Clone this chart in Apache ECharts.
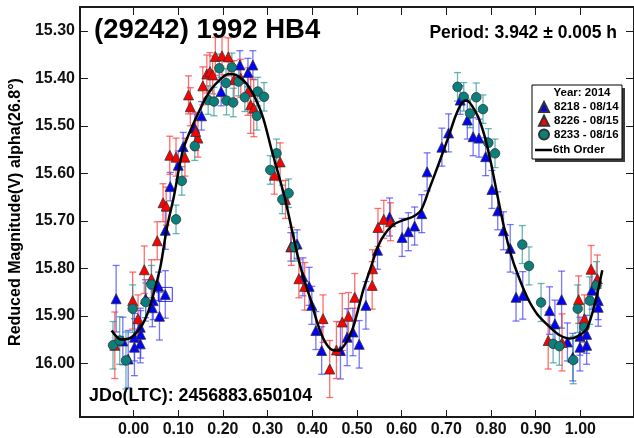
<!DOCTYPE html>
<html>
<head>
<meta charset="utf-8">
<title>(29242) 1992 HB4</title>
<script src="https://cdn.jsdelivr.net/npm/echarts@6/dist/echarts.min.js"></script>
<style>
html, body { margin: 0; padding: 0; background: #fff; }
#chart { width: 634px; height: 438px; }
</style>
</head>
<body>
<div id="chart"></div>
<script>
var xTicks = [0, 0.1, 0.2, 0.3, 0.4, 0.5, 0.6, 0.7, 0.8, 0.9, 1.0];
var yTicks = [15.3, 15.4, 15.5, 15.6, 15.7, 15.8, 15.9, 16.0];

// [phase, reduced mag, error]
var sess8218 = [
    [-0.039, 15.864, 0.07], [-0.024, 15.953, 0.05], [-0.012, 15.991, 0.06], [0.002, 15.945, 0.05],
    [0.002, 15.966, 0.06], [0.015, 15.924, 0.04], [0.016, 15.939, 0.05], [0.015, 15.959, 0.04],
    [0.027, 15.864, 0.04], [0.044, 15.868, 0.04], [0.042, 15.883, 0.04], [0.056, 15.838, 0.03],
    [0.058, 15.901, 0.05], [0.071, 15.855, 0.05], [0.071, 15.720, 0.04], [0.082, 15.628, 0.03],
    [0.100, 15.583, 0.03], [0.111, 15.544, 0.03], [0.137, 15.505, 0.03], [0.152, 15.479, 0.03],
    [0.196, 15.428, 0.03], [0.238, 15.372, 0.03], [0.256, 15.388, 0.03], [0.267, 15.372, 0.03],
    [0.352, 15.755, 0.03], [0.366, 15.749, 0.03], [0.379, 15.818, 0.04], [0.393, 15.838, 0.04],
    [0.399, 15.878, 0.04], [0.408, 15.931, 0.04], [0.421, 15.973, 0.05], [0.463, 15.973, 0.06],
    [0.478, 15.945, 0.06], [0.491, 15.934, 0.05], [0.505, 15.960, 0.05], [0.520, 15.878, 0.05],
    [0.546, 15.762, 0.04], [0.573, 15.692, 0.04], [0.601, 15.735, 0.04], [0.615, 15.723, 0.04],
    [0.629, 15.711, 0.04], [0.645, 15.685, 0.04], [0.657, 15.597, 0.04], [0.690, 15.545, 0.04],
    [0.705, 15.515, 0.04], [0.731, 15.446, 0.03], [0.747, 15.488, 0.04], [0.760, 15.523, 0.04],
    [0.773, 15.526, 0.04], [0.788, 15.565, 0.04], [0.802, 15.634, 0.04], [0.815, 15.679, 0.04],
    [0.828, 15.721, 0.04], [0.843, 15.758, 0.05], [0.856, 15.861, 0.05], [0.871, 15.857, 0.05],
    [0.931, 15.889, 0.05], [0.943, 15.917, 0.05], [0.958, 15.866, 0.06], [0.971, 15.955, 0.04],
    [0.983, 15.987, 0.05], [0.999, 15.966, 0.05], [0.999, 15.943, 0.04], [1.014, 15.962, 0.04],
    [1.014, 15.939, 0.04], [1.040, 15.868, 0.04], [1.040, 15.882, 0.04], [1.026, 15.846, 0.04]
];
var sess8226 = [
    [-0.042, 15.962, 0.07], [-0.002, 15.868, 0.06], [0.010, 15.906, 0.05], [0.024, 15.803, 0.05],
    [0.040, 15.822, 0.04], [0.053, 15.742, 0.04], [0.066, 15.662, 0.04], [0.073, 15.669, 0.04],
    [0.081, 15.562, 0.04], [0.095, 15.566, 0.04], [0.115, 15.566, 0.04], [0.123, 15.435, 0.04],
    [0.127, 15.460, 0.04], [0.144, 15.526, 0.04], [0.139, 15.512, 0.04], [0.155, 15.416, 0.04],
    [0.164, 15.391, 0.04], [0.171, 15.386, 0.04], [0.177, 15.393, 0.04], [0.183, 15.354, 0.04],
    [0.198, 15.353, 0.04], [0.212, 15.355, 0.04], [0.225, 15.403, 0.04], [0.240, 15.400, 0.04],
    [0.256, 15.428, 0.05], [0.262, 15.456, 0.06], [0.269, 15.463, 0.06], [0.328, 15.576, 0.04],
    [0.315, 15.604, 0.04], [0.340, 15.655, 0.04], [0.353, 15.754, 0.04], [0.370, 15.822, 0.04],
    [0.383, 15.838, 0.05], [0.424, 15.906, 0.05], [0.439, 16.012, 0.06], [0.454, 15.972, 0.06],
    [0.467, 15.913, 0.06], [0.481, 15.901, 0.05], [0.495, 15.861, 0.05], [0.534, 15.836, 0.05],
    [0.535, 15.801, 0.04], [0.547, 15.714, 0.04], [0.560, 15.697, 0.04], [0.575, 15.702, 0.04],
    [0.928, 15.952, 0.06], [0.959, 15.956, 0.06], [0.996, 15.866, 0.05], [1.009, 15.906, 0.05],
    [1.024, 15.802, 0.05], [1.038, 15.822, 0.05]
];
var sess8233 = [
    [-0.046, 15.962, 0.05], [-0.031, 15.952, 0.05], [-0.017, 15.994, 0.06], [-0.002, 15.885, 0.05],
    [0.027, 15.871, 0.04], [0.040, 15.834, 0.04], [0.095, 15.697, 0.03], [0.108, 15.616, 0.03],
    [0.137, 15.543, 0.03], [0.167, 15.446, 0.03], [0.180, 15.449, 0.03], [0.192, 15.379, 0.03],
    [0.207, 15.410, 0.03], [0.208, 15.447, 0.03], [0.220, 15.377, 0.03], [0.223, 15.451, 0.03],
    [0.235, 15.407, 0.03], [0.249, 15.440, 0.03], [0.276, 15.479, 0.03], [0.278, 15.428, 0.03],
    [0.292, 15.439, 0.03], [0.306, 15.593, 0.03], [0.320, 15.558, 0.03], [0.333, 15.655, 0.03],
    [0.347, 15.642, 0.03], [0.360, 15.755, 0.03], [0.725, 15.418, 0.03], [0.739, 15.439, 0.03],
    [0.753, 15.474, 0.03], [0.767, 15.440, 0.03], [0.782, 15.465, 0.03], [0.794, 15.536, 0.03],
    [0.809, 15.558, 0.03], [0.870, 15.750, 0.04], [0.885, 15.795, 0.04], [0.912, 15.872, 0.04],
    [0.939, 15.959, 0.04], [0.953, 15.964, 0.04], [0.984, 15.993, 0.05], [0.994, 15.885, 0.05],
    [1.009, 15.924, 0.05], [1.036, 15.836, 0.05], [1.021, 15.868, 0.05]
];
// 6th order fourier fit
var fit6 = [
    [-0.049, 15.931], [-0.028, 15.950], [-0.006, 15.946], [0.016, 15.924], [0.031, 15.896],
    [0.045, 15.853], [0.060, 15.797], [0.075, 15.713], [0.090, 15.650], [0.111, 15.550],
    [0.141, 15.481], [0.170, 15.428], [0.199, 15.398], [0.214, 15.391], [0.229, 15.393],
    [0.258, 15.418], [0.287, 15.475], [0.309, 15.551], [0.338, 15.650], [0.353, 15.713],
    [0.368, 15.776], [0.382, 15.825], [0.397, 15.868], [0.412, 15.917], [0.427, 15.952],
    [0.445, 15.972], [0.459, 15.973], [0.474, 15.959], [0.489, 15.931], [0.500, 15.896],
    [0.514, 15.846], [0.529, 15.804], [0.544, 15.762], [0.558, 15.734], [0.580, 15.709],
    [0.602, 15.699], [0.624, 15.692], [0.643, 15.678], [0.661, 15.635], [0.683, 15.580],
    [0.705, 15.523], [0.720, 15.481], [0.734, 15.453], [0.745, 15.447], [0.756, 15.456],
    [0.771, 15.481], [0.786, 15.523], [0.800, 15.579], [0.815, 15.650], [0.829, 15.713],
    [0.844, 15.769], [0.859, 15.811], [0.881, 15.861], [0.903, 15.896], [0.932, 15.924],
    [0.954, 15.941], [0.976, 15.948], [0.998, 15.941], [1.016, 15.924], [1.034, 15.868],
    [1.049, 15.804]
];
// point with a box drawn round it
var boxed = [[0.071, 15.855]];

var FONT = '"Liberation Sans", Arial, sans-serif';

function errBars(color) {
    return function (params, api) {
        var x = api.value(0), y = api.value(1), e = api.value(2);
        var top = api.coord([x, y - e]);
        var bot = api.coord([x, y + e]);
        var w = 3.5;
        var st = { stroke: color, lineWidth: 1.3 };
        return {
            type: 'group',
            children: [
                { type: 'line', shape: { x1: top[0], y1: top[1], x2: bot[0], y2: bot[1] }, style: st },
                { type: 'line', shape: { x1: top[0] - w, y1: top[1], x2: top[0] + w, y2: top[1] }, style: st },
                { type: 'line', shape: { x1: bot[0] - w, y1: bot[1], x2: bot[0] + w, y2: bot[1] }, style: st }
            ]
        };
    };
}

var chart = echarts.init(document.getElementById('chart'), null, { renderer: 'canvas' });

var axisLineStyle = { color: '#1a1a1a', width: 2 };
var tickStyle = { color: '#1a1a1a', width: 1 };
var option = {
    animation: false,
    backgroundColor: '#fff',
    textStyle: { fontFamily: FONT },
    grid: { left: 74, top: 7, width: 565, height: 410 },
    title: [{
        text: '(29242) 1992 HB4',
        left: 94, top: 16, padding: 0,
        textStyle: { fontSize: 27.5, fontWeight: 'bold', color: '#000', fontFamily: FONT }
    }, {
        text: 'Period: 3.942 ± 0.005 h',
        right: 17, top: 24, padding: 0,
        textStyle: { fontSize: 17.5, fontWeight: 'bold', color: '#000', fontFamily: FONT }
    }, {
        text: 'JDo(LTC): 2456883.650104',
        left: 89, top: 387, padding: 0,
        textStyle: { fontSize: 17.8, fontWeight: 'bold', color: '#000', fontFamily: FONT }
    }],
    legend: [{
        data: ['8218 - 08/14', '8226 - 08/15', '8233 - 08/16'],
        orient: 'vertical',
        left: 538, top: 101,
        padding: 0,
        itemWidth: 10, itemHeight: 10, itemGap: 1.8,
        selectedMode: false,
        textStyle: { fontSize: 11.5, fontWeight: 'bold', color: '#000', fontFamily: FONT }
    }, {
        data: [{ name: '6th Order', icon: 'rect' }],
        orient: 'vertical',
        left: 535, top: 144,
        padding: 0,
        itemWidth: 17, itemHeight: 2.5,
        selectedMode: false,
        textStyle: { fontSize: 11.5, fontWeight: 'bold', color: '#000', fontFamily: FONT, padding: [0, 0, 0, -4] }
    }],
    graphic: [
        { type: 'rect', z: 1, shape: { x: 535, y: 88, width: 90, height: 74 }, style: { fill: '#3a3a3a' } },
        { type: 'rect', z: 1, shape: { x: 532, y: 85, width: 90, height: 74 }, style: { fill: '#fff', stroke: '#000', lineWidth: 1 } },
        {
            type: 'text', z: 3,
            style: { text: 'Year: 2014', x: 582, y: 93, align: 'center', verticalAlign: 'middle',
                font: 'bold 11.5px ' + FONT, fill: '#000' }
        }
    ],
    xAxis: [{
        type: 'value', min: -0.12, max: 1.12,
        axisLine: { onZero: false, lineStyle: axisLineStyle },
        axisTick: { inside: true, length: 7, customValues: xTicks, lineStyle: tickStyle },
        axisLabel: {
            customValues: xTicks, margin: 5,
            fontSize: 16, fontWeight: 'bold', color: '#111', fontFamily: FONT,
            formatter: function (v) { return v.toFixed(2); }
        },
        splitLine: { show: false }
    }, {
        type: 'value', position: 'top', min: -0.12, max: 1.12,
        axisLine: { onZero: false, lineStyle: axisLineStyle },
        axisTick: { inside: true, length: 8, customValues: xTicks, lineStyle: tickStyle },
        axisLabel: { show: false },
        splitLine: { show: false }
    }],
    yAxis: [{
        type: 'value', inverse: true, min: 15.25, max: 16.113,
        name: 'Reduced Magnitude(V) alpha(26.8°)',
        nameLocation: 'middle', nameGap: 50,
        nameTextStyle: { fontSize: 16, fontWeight: 'bold', color: '#000', fontFamily: FONT },
        axisLine: { onZero: false, lineStyle: axisLineStyle },
        axisTick: { inside: true, length: 8, customValues: yTicks, lineStyle: tickStyle },
        axisLabel: {
            customValues: yTicks, margin: 5,
            fontSize: 16, fontWeight: 'bold', color: '#111', fontFamily: FONT,
            formatter: function (v) { return v.toFixed(2); }
        },
        splitLine: { show: false }
    }, {
        type: 'value', position: 'right', inverse: true, min: 15.25, max: 16.113,
        axisLine: { onZero: false, lineStyle: axisLineStyle },
        axisTick: { inside: true, length: 8, customValues: yTicks, lineStyle: tickStyle },
        axisLabel: { show: false },
        splitLine: { show: false }
    }],
    series: [
        { name: 'err8218', type: 'custom', renderItem: errBars('rgba(60,60,255,0.7)'), data: sess8218, encode: { x: 0, y: 1 }, z: 2, silent: true },
        { name: 'err8226', type: 'custom', renderItem: errBars('rgba(255,50,50,0.7)'), data: sess8226, encode: { x: 0, y: 1 }, z: 2, silent: true },
        { name: 'err8233', type: 'custom', renderItem: errBars('rgba(40,150,150,0.7)'), data: sess8233, encode: { x: 0, y: 1 }, z: 2, silent: true },
        {
            name: '8218 - 08/14', type: 'scatter', symbol: 'triangle', symbolSize: 10,
            data: sess8218, encode: { x: 0, y: 1 }, z: 3,
            itemStyle: { color: '#0000ff', borderColor: '#333', borderWidth: 0.8, opacity: 1 }
        },
        {
            name: '8226 - 08/15', type: 'scatter', symbol: 'triangle', symbolSize: 10,
            data: sess8226, encode: { x: 0, y: 1 }, z: 3,
            itemStyle: { color: '#ff0000', borderColor: '#333', borderWidth: 0.8, opacity: 1 }
        },
        {
            name: '8233 - 08/16', type: 'scatter', symbol: 'circle', symbolSize: 9.5,
            data: sess8233, encode: { x: 0, y: 1 }, z: 3,
            itemStyle: { color: '#0b7f7c', borderColor: '#333', borderWidth: 0.8, opacity: 1 }
        },
        {
            name: 'boxed', type: 'scatter', symbol: 'rect', symbolSize: 14,
            data: boxed, z: 3, silent: true,
            itemStyle: { color: 'rgba(0,0,0,0)', borderColor: '#0000ff', borderWidth: 1 }
        },
        {
            name: '6th Order', type: 'line', data: fit6, smooth: 0.3,
            symbol: 'none', z: 4,
            lineStyle: { color: '#000', width: 2.5 },
            itemStyle: { color: '#000' }
        }
    ]
};
chart.setOption(option);
</script>
</body>
</html>
